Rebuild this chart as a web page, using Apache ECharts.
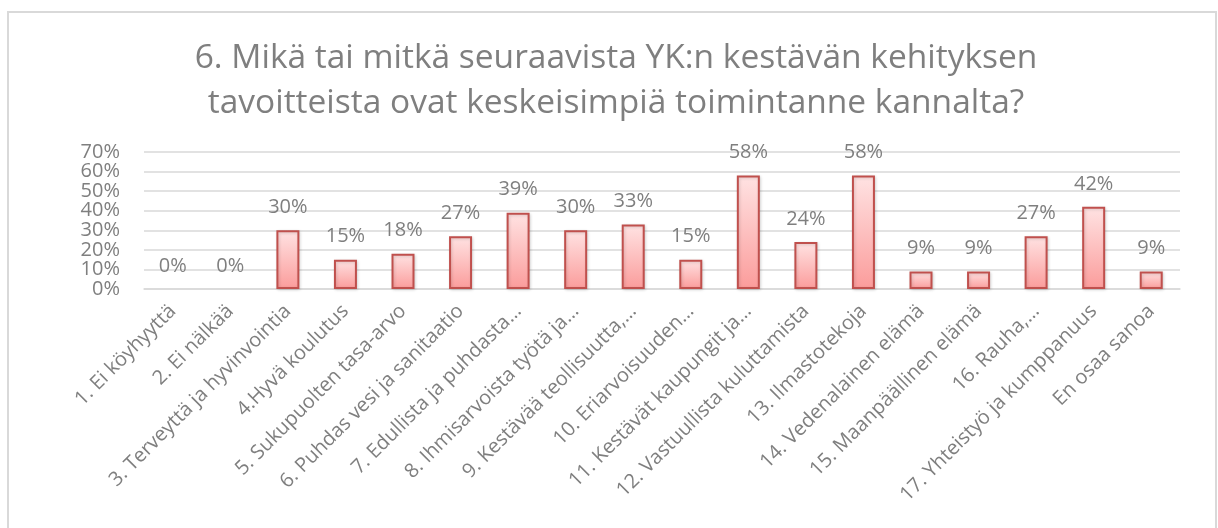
<!DOCTYPE html>
<html>
<head>
<meta charset="utf-8">
<script src="https://cdn.jsdelivr.net/npm/echarts@6/dist/echarts.min.js"></script>
<style>
html,body{margin:0;padding:0;background:#fff;}
#chart{width:1218px;height:528px;}
</style>
</head>
<body>
<div id="chart"></div>
<script>
const titleText = "6. Mikä tai mitkä seuraavista YK:n kestävän kehityksen\ntavoitteista ovat keskeisimpiä toimintanne kannalta?";
const categories = [
  "1. Ei köyhyyttä",
  "2. Ei nälkää",
  "3. Terveyttä ja hyvinvointia",
  "4.Hyvä koulutus",
  "5. Sukupuolten tasa-arvo",
  "6. Puhdas vesi ja sanitaatio",
  "7. Edullista ja puhdasta…",
  "8. Ihmisarvoista työtä ja…",
  "9. Kestävää teollisuutta,…",
  "10. Eriarvoisuuden…",
  "11. Kestävät kaupungit ja…",
  "12. Vastuullista kuluttamista",
  "13. Ilmastotekoja",
  "14. Vedenalainen elämä",
  "15. Maanpäällinen elämä",
  "16. Rauha,…",
  "17. Yhteistyö ja kumppanuus",
  "En osaa sanoa"
];
const values = [0, 0, 30, 15, 18, 27, 39, 30, 33, 15, 58, 24, 58, 9, 9, 27, 42, 9];
const yTicks = [0, 10, 20, 30, 40, 50, 60, 70];
const yTicksEven = [0, 20, 40, 60];
const yTicksOdd = [10, 30, 50, 70];

const gray = '#7f7f7f';
const font = '"Open Sans", sans-serif';
const labelBase = {
  color: gray, fontFamily: font, fontSize: 20, margin: 24,
  showMinLabel: true, showMaxLabel: true, hideOverlap: false
};
const chart = echarts.init(document.getElementById('chart'), null, {renderer: 'canvas'});
chart.setOption({
  animation: false,
  backgroundColor: '#fff',
  title: {
    text: titleText,
    left: 611,
    top: 31,
    textAlign: 'center',
    textStyle: {
      color: gray, fontFamily: font, fontSize: 33.5, fontWeight: 'normal',
      lineHeight: 45
    }
  },
  graphic: [{
    type: 'rect',
    shape: {x: 8, y: 12, width: 1208, height: 540},
    style: {fill: 'none', stroke: '#d9d9d9', lineWidth: 2},
    silent: true, z: -1
  }],
  grid: {left: 144, right: 38, top: 152, bottom: 239, containLabel: false},
  xAxis: {
    type: 'category',
    data: categories,
    axisLine: {show: true, lineStyle: {color: '#d9d9d9', width: 1.5}},
    axisTick: {show: false},
    axisLabel: {
      interval: 0, rotate: 45, color: gray, fontFamily: font, fontSize: 20, margin: 19
    }
  },
  yAxis: [{
    type: 'value', position: 'left',
    min: 0, max: 70, interval: 10,
    axisLine: {show: false},
    axisTick: {show: false},
    splitLine: {lineStyle: {color: '#d9d9d9', width: 1.5}},
    axisLabel: Object.assign({}, labelBase, {
      formatter: v => yTicksEven.includes(Math.round(v)) ? Math.round(v) + '%' : ''
    })
  }, {
    type: 'value', position: 'left', offset: 0,
    min: 0, max: 70, interval: 10,
    axisLine: {show: false},
    axisTick: {show: false},
    splitLine: {show: false},
    axisLabel: Object.assign({}, labelBase, {
      formatter: v => yTicksOdd.includes(Math.round(v)) ? Math.round(v) + '%' : ''
    })
  }],
  series: [{
    type: 'bar',
    yAxisIndex: 0,
    data: values.map(v => v === 0 ? {value: v, itemStyle: {borderWidth: 0, color: 'rgba(0,0,0,0)', shadowBlur: 0, shadowColor: 'rgba(0,0,0,0)'}} : v),
    barWidth: 23,
    itemStyle: {
      color: new echarts.graphic.LinearGradient(0, 0, 0, 1, [
        {offset: 0, color: '#ffe3e3'},
        {offset: 1, color: '#fb9c9b'}
      ]),
      borderColor: '#c0504d',
      borderWidth: 2,
      shadowColor: 'rgba(0,0,0,0.15)',
      shadowBlur: 3,
      shadowOffsetX: 1,
      shadowOffsetY: 1
    },
    label: {
      show: true, position: 'top', distance: 13,
      color: gray, fontFamily: font, fontSize: 20,
      formatter: p => p.value + '%'
    }
  }]
});
</script>
</body>
</html>
